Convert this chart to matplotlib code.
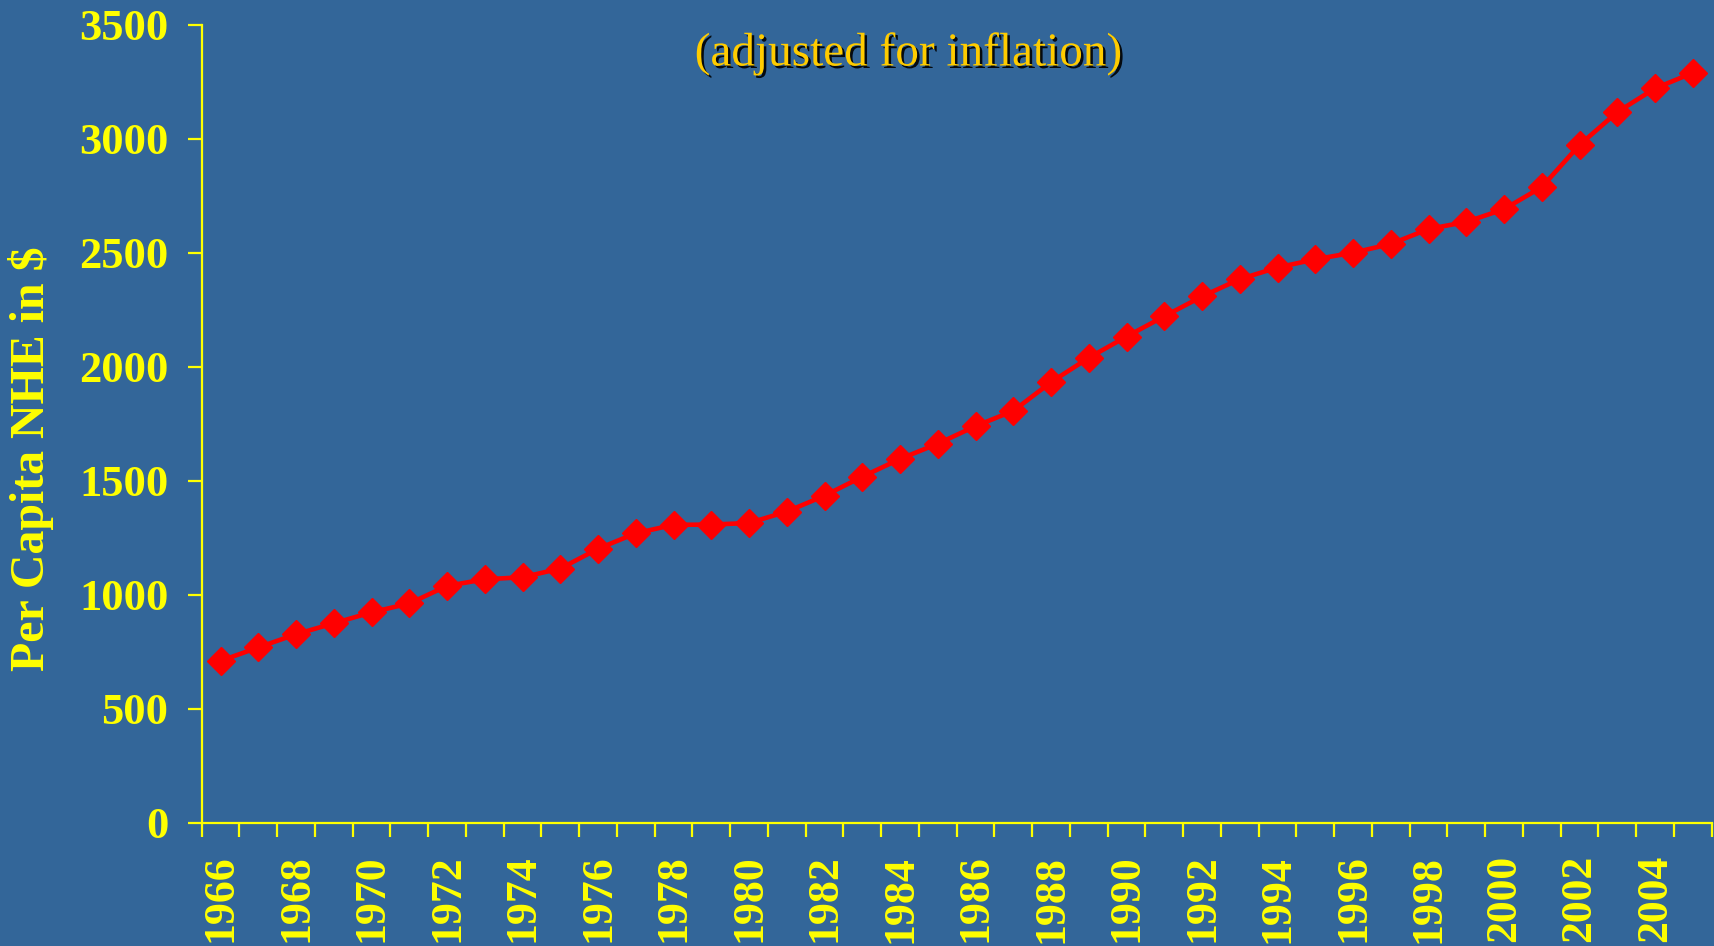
import matplotlib
matplotlib.use("Agg")
import matplotlib.pyplot as plt
import matplotlib.patheffects as pe
from matplotlib.ticker import FixedLocator, NullFormatter

years = list(range(1966, 2006))
nhe = [710, 769, 827, 875, 923, 962, 1039, 1068, 1077, 1115,
       1202, 1270, 1307, 1308, 1315, 1365, 1435, 1518, 1596, 1663,
       1740, 1807, 1933, 2040, 2133, 2222, 2309, 2385, 2436, 2472,
       2501, 2539, 2605, 2636, 2692, 2789, 2974, 3118, 3222, 3290]
y_ticks = [0, 500, 1000, 1500, 2000, 2500, 3000, 3500]
subtitle = "(adjusted for inflation)"
ylabel = "Per Capita NHE in $"

BG = "#336699"
YEL = "#FFFF00"
GOLD = "#FFCC00"

plt.rcParams['font.family'] = ['Liberation Serif', 'DejaVu Serif']

fig = plt.figure(figsize=(17.14, 9.46), dpi=100, facecolor=BG)
ax = fig.add_axes([201.7/1714, 1 - 822.7/946, 1510/1714, (822.7-25)/946])
ax.set_facecolor(BG)

xs = list(range(len(years)))
ax.plot(xs, nhe, color="#FF0000", lw=3.3, marker='D', markersize=14.5,
        markerfacecolor="#FF0000", markeredgecolor="#FF0000", zorder=3)

ax.set_xlim(-0.5, len(years) - 0.5)
ax.set_ylim(0, 3500)

for s in ['top', 'right']:
    ax.spines[s].set_visible(False)
for s in ['left', 'bottom']:
    ax.spines[s].set_color(YEL)
    ax.spines[s].set_linewidth(1.6)

# y axis
ax.set_yticks(y_ticks)
ax.set_yticklabels([str(v) for v in y_ticks], fontsize=32, fontweight='bold', color=YEL)
ax.tick_params(axis='y', length=10, width=1.6, color=YEL, pad=14)

# x axis: ticks at category boundaries, labels at every other category
ax.xaxis.set_major_locator(FixedLocator([i - 0.5 for i in range(len(years) + 1)]))
ax.xaxis.set_major_formatter(NullFormatter())
ax.tick_params(axis='x', which='major', length=10, width=1.6, color=YEL)
lab_pos = [i for i, y in enumerate(years) if (y - 1966) % 2 == 0]
ax.xaxis.set_minor_locator(FixedLocator(lab_pos))
ax.set_xticklabels([str(years[i]) for i in lab_pos], minor=True)
ax.tick_params(axis='x', which='minor', length=0, pad=23, labelsize=31.5,
               labelcolor=YEL, labelrotation=90)
for t in ax.get_xticklabels(minor=True):
    t.set_fontweight('bold')

fig.text(31/1714, 1 - 459/946, ylabel, rotation=90, fontsize=34.5, fontweight='bold',
         color=YEL, ha='center', va='center')

fig.text(909/1714, 1 - 54/946, subtitle, fontsize=34, color=GOLD,
         ha='center', va='center',
         path_effects=[pe.SimplePatchShadow(offset=(1.8, -1.8), shadow_rgbFace='black', alpha=0.9),
                       pe.Normal()])

fig.savefig("out.png", dpi=100, facecolor=BG)
